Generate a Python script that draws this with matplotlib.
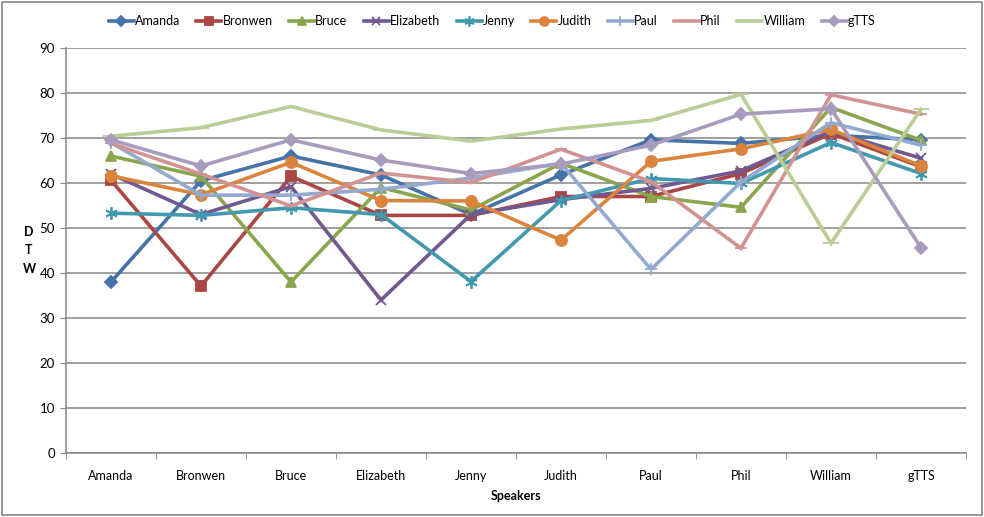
import numpy as np
import matplotlib
matplotlib.use("Agg")
import matplotlib.pyplot as plt

plt.rcParams['font.family'] = ['Lato', 'DejaVu Sans']

# Categorias (hablantes)
speakers = ["Amanda", "Bronwen", "Bruce", "Elizabeth", "Jenny",
            "Judith", "Paul", "Phil", "William", "gTTS"]

# Valores DTW por serie
amanda    = [38.0, 60.5, 66.0, 61.8, 53.0, 61.8, 69.6, 68.8, 70.6, 69.6]
bronwen   = [60.6, 37.1, 61.5, 52.8, 52.8, 57.0, 57.0, 62.1, 71.0, 63.6]
bruce     = [66.0, 61.5, 38.0, 59.0, 54.0, 64.4, 57.0, 54.6, 76.8, 69.5]
elizabeth = [62.0, 53.0, 59.2, 34.0, 53.0, 56.3, 58.8, 62.7, 71.5, 65.5]
jenny     = [53.3, 52.8, 54.5, 53.0, 38.1, 56.1, 61.0, 59.9, 69.0, 62.1]
judith    = [61.6, 57.4, 64.6, 56.1, 56.0, 47.3, 64.8, 67.6, 71.9, 63.8]
paul      = [69.0, 57.3, 57.3, 58.6, 61.1, 64.4, 40.8, 60.2, 73.4, 68.4]
phil      = [68.8, 62.0, 54.9, 62.2, 60.1, 67.5, 60.3, 45.5, 79.6, 75.3]
william   = [70.4, 72.3, 77.0, 71.8, 69.3, 72.0, 73.9, 79.7, 46.6, 76.4]
gtts      = [69.6, 63.8, 69.6, 65.1, 62.1, 64.2, 68.4, 75.3, 76.5, 45.6]

series = [
    ("Amanda", amanda, "#4572A7", "D", 6),
    ("Bronwen", bronwen, "#AA4643", "s", 7),
    ("Bruce", bruce, "#89A54E", "^", 7),
    ("Elizabeth", elizabeth, "#71588F", "x", 7),
    ("Jenny", jenny, "#4198AF", (6, 2, 0), 9),
    ("Judith", judith, "#DB843D", "o", 8),
    ("Paul", paul, "#93A9CF", "+", 9),
    ("Phil", phil, "#D19392", "_", 8),
    ("William", william, "#B9CD96", "_", 12),
    ("gTTS", gtts, "#A99BBD", "D", 6),
]

fig = plt.figure(figsize=(9.84, 5.17), dpi=100)
ax = fig.add_axes([66 / 984, 64 / 517, 900 / 984, 405 / 517])

x = np.arange(len(speakers))
for nombre, vals, color, mk, ms in series:
    ax.plot(x, vals, color=color, lw=2.6, marker=mk, markersize=ms,
            markeredgecolor=color, markerfacecolor=color,
            markeredgewidth=1.3, label=nombre, solid_joinstyle="miter")

ax.set_xlim(-0.5, len(speakers) - 0.5)
ax.set_ylim(0, 90)
ax.set_yticks(np.arange(0, 91, 10))
ax.set_xticks(x)
ax.set_xticklabels(speakers, fontsize=9)
ax.set_xticks(np.arange(-0.5, len(speakers), 1), minor=True)
ax.tick_params(axis="x", which="major", length=0, pad=12)
ax.tick_params(axis="x", which="minor", length=4, color="#868686", direction="out")
ax.tick_params(axis="y", length=4, color="#868686", direction="out", labelsize=9.5, pad=4)

ax.grid(axis="y", color="#868686", lw=1.1)
ax.set_axisbelow(True)
for s in ["top", "right"]:
    ax.spines[s].set_visible(False)
ax.spines["left"].set_color("#868686")
ax.spines["bottom"].set_color("#868686")
ax.spines["left"].set_linewidth(1.1)
ax.spines["bottom"].set_linewidth(1.1)

ax.set_xlabel("Speakers", fontsize=9, fontweight="bold", labelpad=6)
# etiqueta vertical D T W, letra por letra
for letra, ypx in zip("DTW", [232, 250, 269]):
    fig.text(29 / 984, 1 - ypx / 517, letra, fontsize=9, fontweight="bold",
             ha="center", va="center")

leg = fig.legend(loc="center", bbox_to_anchor=(0.5, 1 - 21 / 517), ncol=10,
                 frameon=False, fontsize=9, handlelength=2.0, handletextpad=0.1,
                 columnspacing=1.3, markerscale=0.8)

# borde exterior del grafico
fig.patches.append(plt.Rectangle((0.002, 0.003), 0.996, 0.994, transform=fig.transFigure,
                                 fill=False, edgecolor="#868686", lw=1.2))

fig.savefig("out.png", dpi=100)
